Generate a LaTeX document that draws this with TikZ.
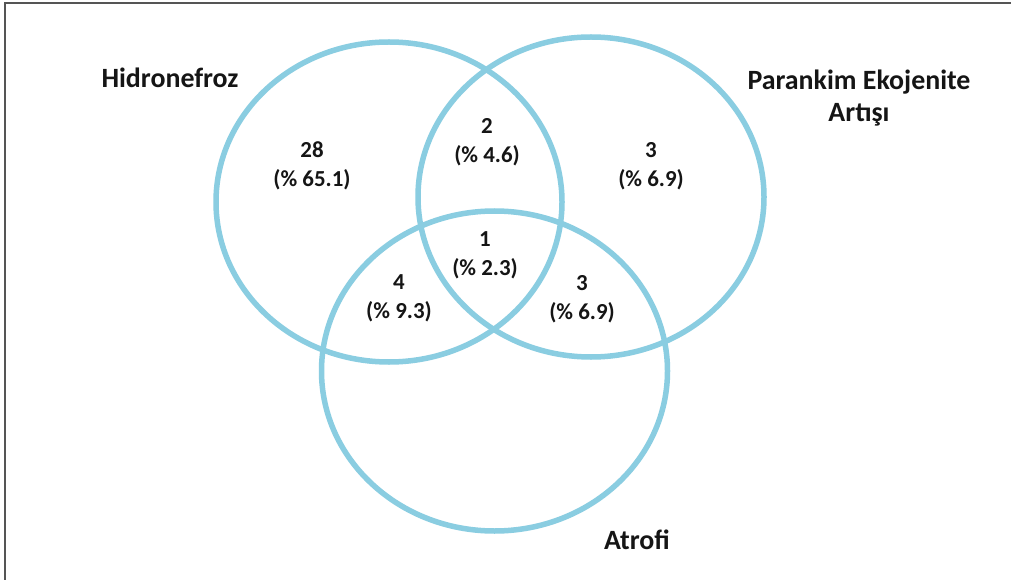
\documentclass[tikz,border=0pt]{standalone}
\usepackage{fontspec}
\setmainfont{Carlito}
\usetikzlibrary{shapes.geometric}
\definecolor{vennblue}{HTML}{8ACDE1}
\definecolor{framegray}{HTML}{555555}
\definecolor{txt}{HTML}{151515}
\begin{document}
\begin{tikzpicture}[x=1bp,y=-1bp,
  venn/.style={ellipse, draw=vennblue, line width=5.5bp, minimum width=346bp, minimum height=320bp, inner sep=0pt},
  title/.style={font=\fontsize{28}{32}\selectfont\bfseries, text=txt, align=center, inner sep=0pt},
  count/.style={font=\fontsize{23}{29}\selectfont\bfseries, text=txt, align=center, inner sep=0pt}]
\useasboundingbox (0,0) rectangle (1011,580);
\fill[white] (0,0) rectangle (1011,580);
\draw[framegray, line width=2bp] (4.5,580) -- (4.5,3) -- (1011,3);
\node[venn] (H) at (389,202) {};
\node[venn] (P) at (591,197) {};
\node[venn] (A) at (494.5,371) {};
\node[title] (tH) at (170,78) {Hidronefroz};
\node[title] (tP) at (859,98) {Parankim Ekojenite\\Artışı};
\node[title] (tA) at (637,540) {Atrofi};
\node[count] (n1) at (312,166) {28\\(\% 65.1)};
\node[count] (n2) at (487,142) {2\\(\% 4.6)};
\node[count] (n3) at (651,166) {3\\(\% 6.9)};
\node[count] (n4) at (485,255) {1\\(\% 2.3)};
\node[count] (n5) at (399,298) {4\\(\% 9.3)};
\node[count] (n6) at (582,299) {3\\(\% 6.9)};
\end{tikzpicture}
\end{document}
